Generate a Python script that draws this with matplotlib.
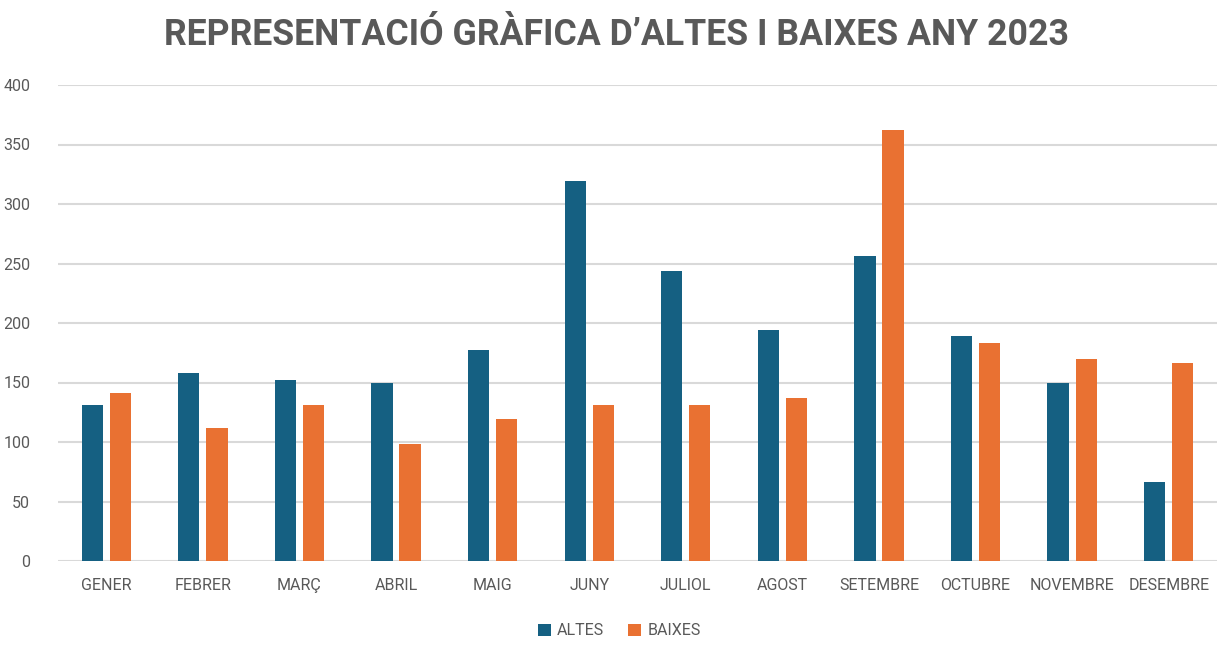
import numpy as np
import matplotlib
matplotlib.use("Agg")
import matplotlib.pyplot as plt

mesos = ["GENER", "FEBRER", "MARÇ", "ABRIL", "MAIG", "JUNY", "JULIOL",
         "AGOST", "SETEMBRE", "OCTUBRE", "NOVEMBRE", "DESEMBRE"]
altes = [131, 158, 152, 150, 177, 319, 244, 194, 256, 189, 150, 66]
baixes = [141, 112, 131, 98, 119, 131, 131, 137, 362, 183, 170, 166]
y_ticks = [0, 50, 100, 150, 200, 250, 300, 350, 400]

blau = "#156082"
taronja = "#E97132"
gris = "#595959"

plt.rcParams["font.family"] = ["Roboto", "DejaVu Sans"]

fig = plt.figure(figsize=(12.19, 6.57), dpi=100)
ax = fig.add_axes([58 / 1219, 96 / 657, 1159 / 1219, 476 / 657])

x = np.arange(len(mesos))
w = 0.22
ax.bar(x - 0.145, altes, w, color=blau, label="ALTES", zorder=3)
ax.bar(x + 0.145, baixes, w, color=taronja, label="BAIXES", zorder=3)

ax.set_xlim(-0.5, len(mesos) - 0.5)
ax.set_ylim(0, 400)
ax.set_yticks(y_ticks)
ax.set_xticks(x)
ax.set_xticklabels(mesos)
ax.tick_params(axis="both", length=0, labelsize=11.5, colors=gris)
ax.tick_params(axis="y", pad=20)
ax.tick_params(axis="x", pad=12)
ax.grid(axis="y", color="#d9d9d9", linewidth=1.5, zorder=0)
for s in ax.spines.values():
    s.set_visible(False)

fig.text(0.506, 0.946, "REPRESENTACIÓ GRÀFICA D’ALTES I BAIXES ANY 2023",
         ha="center", va="center", fontsize=25.7, fontweight="bold", color=gris,
         family=["Roboto", "DejaVu Sans"])

fig.legend(loc="center", bbox_to_anchor=(0.508, 0.04), ncol=2, frameon=False,
           fontsize=11.5, labelcolor=gris, handlelength=0.8, handleheight=0.8,
           columnspacing=1.5, handletextpad=0.4)

fig.savefig("out.png", dpi=100)
